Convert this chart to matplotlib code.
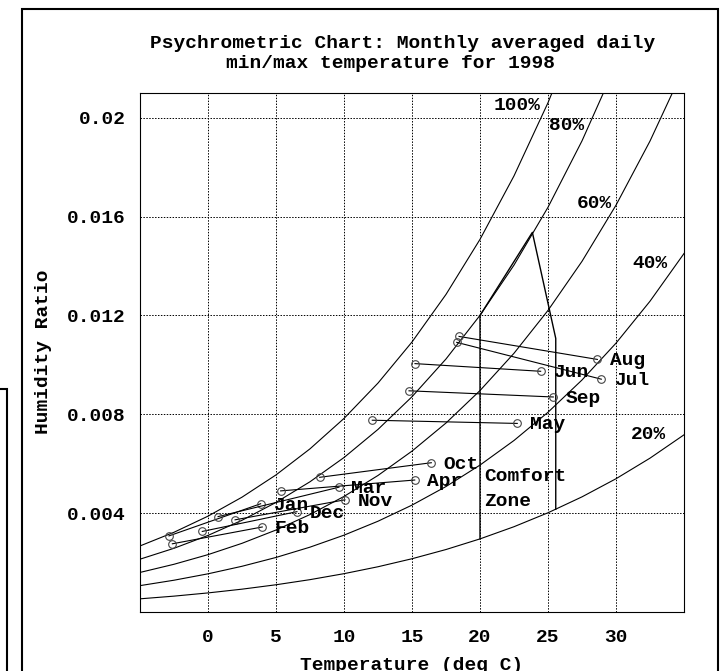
import matplotlib
matplotlib.use('Agg')
import matplotlib.pyplot as plt
from matplotlib.patches import Rectangle

plt.rcParams['font.family'] = ['Liberation Mono', 'DejaVu Sans Mono']
plt.rcParams['font.weight'] = 'bold'
plt.rcParams['font.size'] = 14

# relative humidity curves (humidity ratio read at 2.5 deg steps)
temps = [-5, -2.5, 0, 2.5, 5, 7.5, 10, 12.5, 15, 17.5, 20, 22.5, 25, 27.5, 30, 32.5, 35]
w100 = [0.002673, 0.003226, 0.003878, 0.004646, 0.005547, 0.006602, 0.007832, 0.009263, 0.010925,
        0.012850, 0.015078, 0.017646, 0.020607, 0.024013, 0.027927, 0.032421, 0.037566]
w80 = [0.002137, 0.002578, 0.003099, 0.003711, 0.004434, 0.005270, 0.006250, 0.007389, 0.008710,
       0.010238, 0.012004, 0.014037, 0.016377, 0.019063, 0.022143, 0.025669, 0.029703]
w60 = [0.001601, 0.001931, 0.002321, 0.002779, 0.003317, 0.003944, 0.004676, 0.005525, 0.006510,
       0.007647, 0.008960, 0.010469, 0.012203, 0.014189, 0.016461, 0.019055, 0.022014]
w40 = [0.001067, 0.001286, 0.001545, 0.001850, 0.002207, 0.002624, 0.003109, 0.003673, 0.004325,
       0.005077, 0.005945, 0.006940, 0.008082, 0.009388, 0.010878, 0.012575, 0.014505]
w20 = [0.000533, 0.000642, 0.000772, 0.000924, 0.001102, 0.001309, 0.001551, 0.001831, 0.002155,
       0.002528, 0.002958, 0.003451, 0.004015, 0.004659, 0.005392, 0.006225, 0.007169]
rh_curves = [w100, w80, w60, w40, w20]
rh_labels = ['100%', '80%', '60%', '40%', '20%']
rh_label_t = [21.0, 25.1, 27.1, 31.2, 31.1]
rh_label_w = [0.0205, 0.0197, 0.01652, 0.0141, 0.0072]

# comfort zone outline
comfort_t = [20, 20, 23.85, 25.57, 25.57]
comfort_w = [0.00296, 0.0120, 0.01536, 0.01107, 0.00416]

# monthly averaged daily min / max
months = ['Jan', 'Feb', 'Mar', 'Apr', 'May', 'Jun', 'Jul', 'Aug', 'Sep', 'Oct', 'Nov', 'Dec']
tmin = [-2.87, -2.62, 0.74, 5.34, 12.08, 15.22, 18.29, 18.46, 14.78, 8.21, 1.99, -0.42]
wmin = [0.00308, 0.00276, 0.00386, 0.00490, 0.00776, 0.01005, 0.01091, 0.01115, 0.00895, 0.00545, 0.00373, 0.00326]
tmax = [3.87, 3.99, 9.63, 15.20, 22.74, 24.46, 28.92, 28.63, 25.39, 16.42, 10.07, 6.54]
wmax = [0.00438, 0.00344, 0.00505, 0.00534, 0.00763, 0.00974, 0.00942, 0.01022, 0.00870, 0.00604, 0.00454, 0.00406]

xticks = [0, 5, 10, 15, 20, 25, 30]
yticks = [0.004, 0.008, 0.012, 0.016, 0.02]
ytick_labels = ['0.004', '0.008', '0.012', '0.016', '0.02']

fig = plt.figure(figsize=(7.21, 6.71), dpi=100)
ax = fig.add_axes([140/721, 1-612/671, 544/721, 519/671])

for w in rh_curves:
    ax.plot(temps, w, color='black', lw=0.8)
for lab, t, w in zip(rh_labels, rh_label_t, rh_label_w):
    ax.text(t, w, lab, ha='left', va='center')

ax.plot(comfort_t, comfort_w, color='black', lw=1.0)
ax.text(20.3, 0.00548, 'Comfort', ha='left', va='center')
ax.text(20.3, 0.00447, 'Zone', ha='left', va='center')

for m, t0, w0, t1, w1 in zip(months, tmin, wmin, tmax, wmax):
    ax.plot([t0, t1], [w0, w1], color='black', lw=0.8)
    ax.plot([t0, t1], [w0, w1], 'o', ms=5.5, mfc='none', mec='#444444', mew=0.8)
    ax.annotate(m, (t1, w1), xytext=(9, -1), textcoords='offset points', ha='left', va='center')

ax.set_xlim(-5, 35)
ax.set_ylim(0, 0.021)
ax.set_xticks(xticks)
ax.set_yticks(yticks)
ax.set_yticklabels(ytick_labels)
ax.tick_params(length=0)
ax.tick_params(axis='x', pad=12)
ax.tick_params(axis='y', pad=10)
ax.grid(True, color='black', ls=(0, (1.5, 1.5)), lw=0.7)
for s in ax.spines.values():
    s.set_linewidth(0.8)

fig.text(402.5/721, 1-43/671, 'Psychrometric Chart: Monthly averaged daily', ha='center', va='center')
fig.text(391/721, 1-63/671, 'min/max temperature for 1998', ha='center', va='center')
fig.text(44/721, 1-352/671, 'Humidity Ratio', rotation=90, ha='center', va='center')
# the reference image crops this label at its lower edge
fig.text(412/721, 1-666/671, 'Temperature (deg C)', ha='center', va='center')

fig.add_artist(Rectangle((22/721, -0.05), 696/721, 1.05-9/671, transform=fig.transFigure,
                         fill=False, lw=1.5, ec='black'))
fig.add_artist(Rectangle((-0.05, -0.05), 0.05+7/721, 1.05-389/671, transform=fig.transFigure,
                         fill=False, lw=1.5, ec='black'))

fig.savefig('out.png', dpi=100)
